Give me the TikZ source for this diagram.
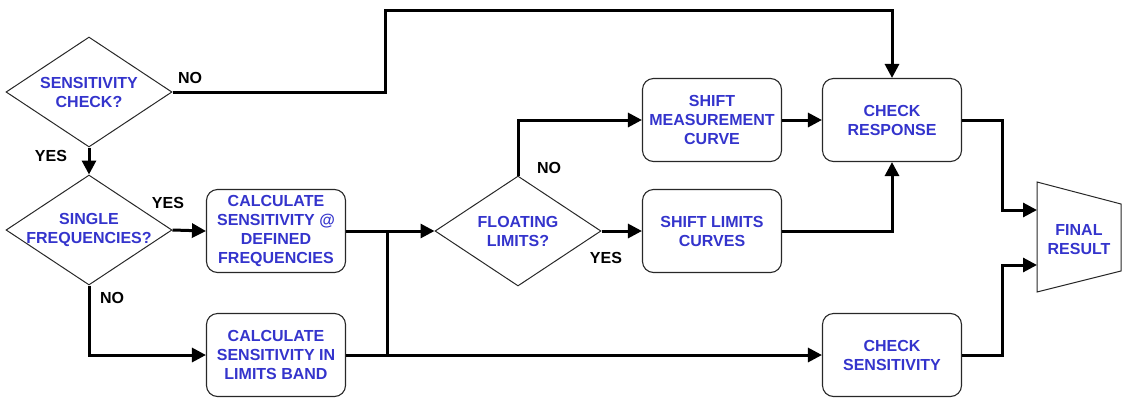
\documentclass[tikz,border=0pt]{standalone}
\usepackage{fontspec}
\setmainfont{Liberation Sans}
\usetikzlibrary{arrows.meta,shapes.geometric}
\definecolor{txtblue}{RGB}{52,52,204}
\definecolor{edgegray}{RGB}{40,40,40}
\begin{document}
\begin{tikzpicture}[x=1pt,y=-1pt,
  boxtext/.style={font=\bfseries\fontsize{16}{19}\selectfont,text=txtblue,align=center},
  procbox/.style={boxtext,draw=edgegray,line width=1.1pt,rounded corners=11pt,minimum width=139pt,minimum height=83pt,inner sep=0pt},
  decision/.style={diamond,draw=edgegray,line width=1pt,minimum width=166pt,minimum height=110pt,inner sep=0pt,aspect=1.5},
  lbl/.style={font=\bfseries\fontsize{16}{19}\selectfont,text=black},
  conn/.style={line width=3pt,black},
  arr/.style={conn,-{Triangle[length=14pt,width=14pt]}}]
\useasboundingbox (0,0) rectangle (1127,400);
% decisions
\node[decision,label={[boxtext]center:SENSITIVITY\\CHECK?}] (d1) at (89,92) {};
\node[decision,label={[boxtext]center:SINGLE\\FREQUENCIES?}] (d2) at (89,230) {};
\node[decision,label={[boxtext]center:FLOATING\\LIMITS?}] (fl) at (518,231) {};
% process boxes
\node[procbox] (c1) at (276,231) {CALCULATE\\SENSITIVITY @\\DEFINED\\FREQUENCIES};
\node[procbox] (c2) at (276,355) {CALCULATE\\SENSITIVITY IN\\LIMITS BAND};
\node[procbox] (sm) at (712,120) {SHIFT\\MEASUREMENT\\CURVE};
\node[procbox] (sl) at (712,231) {SHIFT LIMITS\\CURVES};
\node[procbox] (cr) at (892,120) {CHECK\\RESPONSE};
\node[procbox] (cs) at (892,355) {CHECK\\SENSITIVITY};
% final result trapezoid
\coordinate (frtl) at (1037,182);
\coordinate (frbl) at (1037,292);
\coordinate (frtr) at (1121,204);
\coordinate (frbr) at (1121,271);
\draw[draw=edgegray,line width=1pt] (frtl) -- (frtr) -- (frbr) -- (frbl) -- cycle;
\node[boxtext] (fr) at (1079,240) {FINAL\\RESULT};
\coordinate (fr1) at (1037,210);
\coordinate (fr2) at (1037,265);
% junctions
\coordinate (j1) at (387,231);
\coordinate (j2) at (387,355);
\coordinate (topL) at (385,10);
\coordinate (mr) at (1002,0);
% connectors
\draw[arr] (d1.east) -| (topL) -| (cr.north);
\draw[arr] (d1.south) -- (d2.north);
\draw[arr] (d2.east) -- (c1.west);
\draw[arr] (d2.south) |- (c2.west);
\draw[conn] (c1.east) -- (j1);
\draw[arr] (j1) -- (fl.west);
\draw[conn] (j1) -- (j2);
\draw[arr] (c2.east) -- (cs.west);
\draw[arr] (fl.north) |- (sm.west);
\draw[arr] (fl.east) -- (sl.west);
\draw[arr] (sm.east) -- (cr.west);
\draw[arr] (sl.east) -| (cr.south);
\draw[arr] (cr.east) -| (mr |- fr1) -- (fr1);
\draw[arr] (cs.east) -| (mr |- fr2) -- (fr2);
% labels
\node[lbl] (lno1) at (190,78) {NO};
\node[lbl] (lyes1) at (51,156) {YES};
\node[lbl] (lyes2) at (168,203) {YES};
\node[lbl] (lno2) at (112,298) {NO};
\node[lbl] (lno3) at (549,168) {NO};
\node[lbl] (lyes3) at (606,258) {YES};
\end{tikzpicture}
\end{document}
